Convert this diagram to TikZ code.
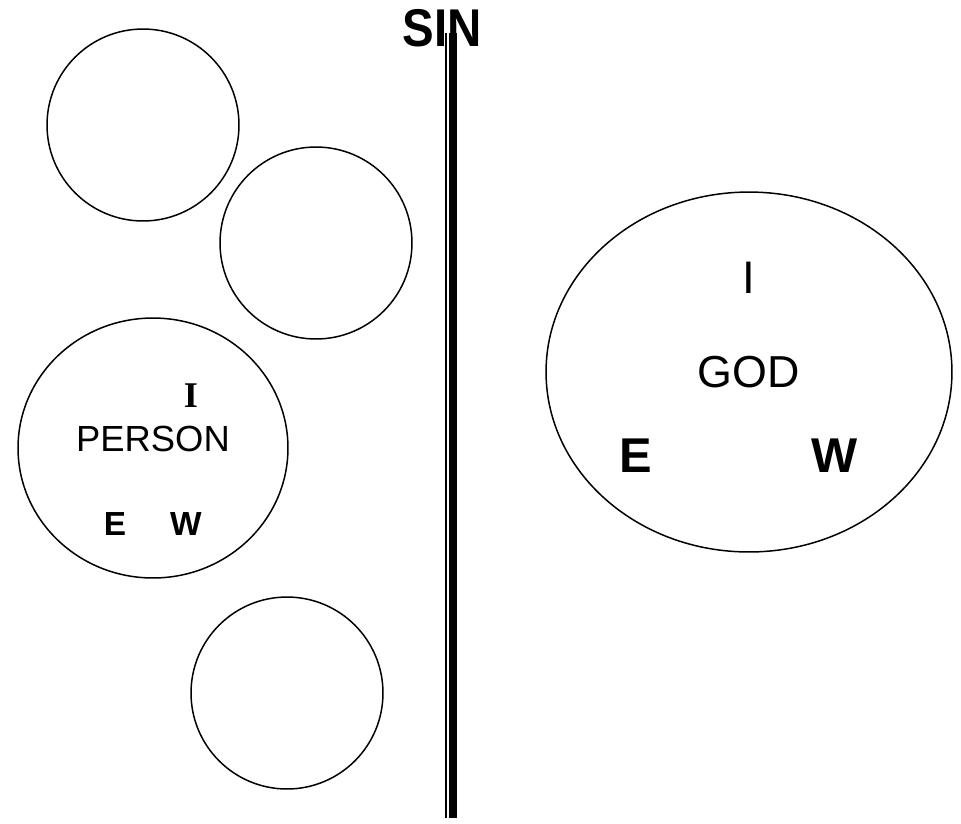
\documentclass[tikz,border=0pt]{standalone}
\usepackage{fontspec}
\setmainfont{Liberation Sans}
\newfontfamily\serifI{Liberation Serif}
\usetikzlibrary{shapes.geometric}

\begin{document}
\begin{tikzpicture}[x=0.02cm,y=-0.02cm,
  ring/.style={draw,circle,line width=.85pt,inner sep=0pt,minimum size=3.84cm},
  oval/.style={draw,ellipse,line width=.85pt,inner sep=0pt},
  lbl/.style={anchor=base,inner sep=0pt}]
 \useasboundingbox (0,0) rectangle (961,823);
 % circles on the left
 \node[ring] (c1) at (143,125) {};
 \node[ring] (c2) at (316,243) {};
 \node[ring] (c4) at (287,693) {};
 \node[oval,minimum width=5.4cm,minimum height=5.2cm] (person) at (153,448) {};
 \node[lbl,font=\fontsize{20.7}{24}\selectfont] (pname) at (153,451) {PERSON};
 \node[lbl,font=\fontsize{20.6}{24}\selectfont\serifI\bfseries] (pI) at (191,407) {I};
 \node[lbl,font=\fontsize{19}{22}\selectfont\bfseries] (pE) at (115,535) {E};
 \node[lbl,font=\fontsize{19}{22}\selectfont\bfseries] (pW) at (186,535) {W};
 % god
 \node[oval,minimum width=8.12cm,minimum height=7.2cm] (god) at (749,372) {};
 \node[lbl,font=\fontsize{26}{30}\selectfont] (gI) at (749,293) {I};
 \node[lbl,font=\fontsize{25.5}{30}\selectfont] (gname) at (749,387) {GOD};
 \node[lbl,font=\fontsize{27.8}{32}\selectfont\bfseries] (gE) at (636,472) {E};
 \node[lbl,font=\fontsize{27.8}{32}\selectfont\bfseries] (gW) at (835,472) {W};
 % the wall
 \node[lbl,yscale=1.12,font=\fontsize{27}{32}\selectfont\bfseries] (sin) at (442,46) {SIN};
 \coordinate (thintop) at (446,33);
 \coordinate (thinbot) at (446,818);
 \coordinate (thicktop) at (453,33);
 \coordinate (thickbot) at (453,818);
 \draw[line width=1.1pt] (thintop)--(thinbot);
 \draw[line width=4pt] (thicktop)--(thickbot);
\end{tikzpicture}
\end{document}
